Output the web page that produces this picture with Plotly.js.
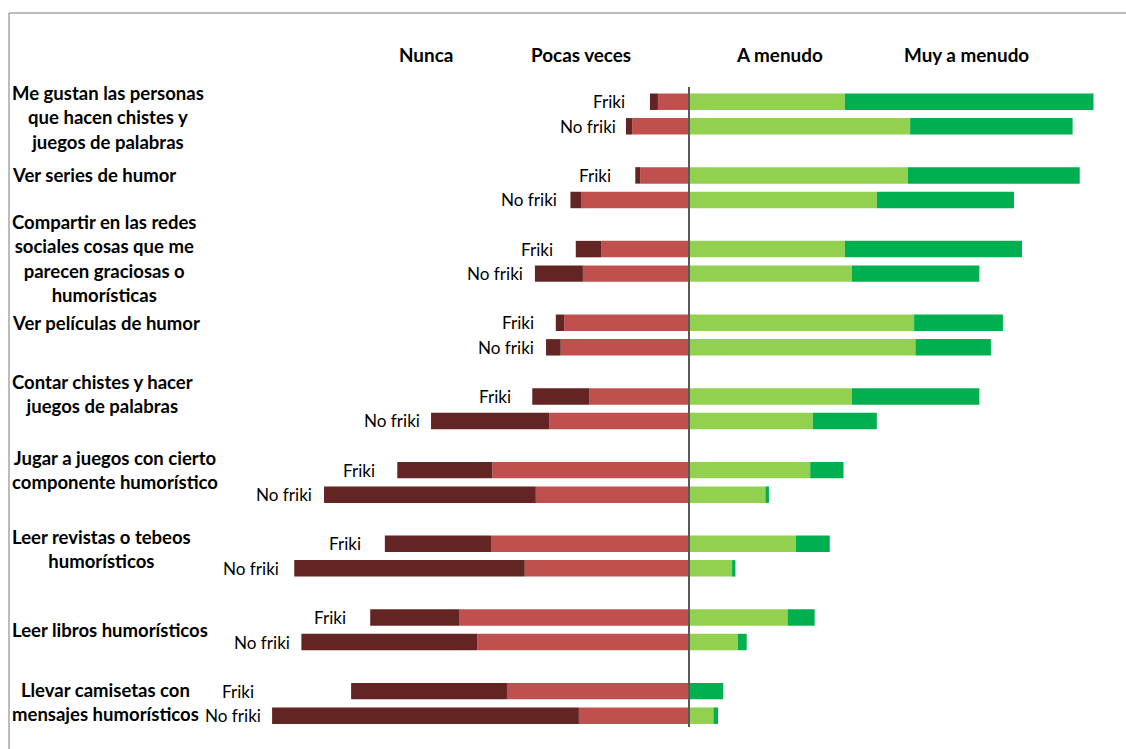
<!DOCTYPE html>
<html>
<head>
<meta charset="utf-8">
<script src="https://cdn.plot.ly/plotly-3.0.1.min.js"></script>
<style>
  html, body { margin: 0; padding: 0; background: #ffffff; }
  #chart { width: 1126px; height: 749px; }
</style>
</head>
<body>
<div id="chart"></div>
<script>
// ---------------- DATA (percentages) ----------------
const categories = [
  "Me gustan las personas<br>que hacen chistes y<br>juegos de palabras",
  "Ver series de humor",
  "Compartir en las redes<br>sociales cosas que me<br>parecen graciosas o<br>humorísticas",
  "Ver películas de humor",
  "Contar chistes y hacer<br>juegos de palabras",
  "Jugar a juegos con cierto<br>componente humorístico",
  "Leer revistas o tebeos<br>humorísticos",
  "Leer libros humorísticos",
  "Llevar camisetas con<br>mensajes humorísticos"
];
const groupLabels = ["Friki", "No friki"];
const seriesNames = ["Nunca", "Pocas veces", "A menudo", "Muy a menudo"];

const nuncaFriki     = [1.8, 1.1, 5.7, 1.9, 12.8, 21.4, 23.9, 20.0, 35.1];
const nuncaNoFriki   = [1.4, 2.5, 10.8, 3.3, 26.6, 47.7, 51.9, 39.6, 69.1];
const pocasFriki     = [7.0, 11.0, 19.8, 28.1, 22.5, 44.3, 44.6, 51.8, 41.0];
const pocasNoFriki   = [12.8, 24.2, 23.9, 28.9, 31.5, 34.5, 37.0, 47.7, 24.8];
const menudoFriki    = [35.1, 49.3, 35.1, 50.7, 36.7, 27.3, 24.1, 22.2, 0.0];
const menudoNoFriki  = [49.8, 42.3, 36.7, 51.0, 27.9, 17.2, 9.7, 11.0, 5.5];
const muyFriki       = [56.0, 38.7, 39.9, 20.0, 28.7, 7.5, 7.6, 6.1, 7.7];
const muyNoFriki     = [36.6, 30.9, 28.7, 17.0, 14.4, 0.8, 0.75, 2.0, 1.05];

// ---------------- LAYOUT CONSTANTS ----------------
const W = 1126, H = 749;
const M = { l: 245, r: 10, t: 87, b: 22 };
const PW = W - M.l - M.r, PH = H - M.t - M.b;
const XR = [-100, 96.17];
const YR = [25.46, -0.6]; // reversed
const FONT = "Lato, 'Open Sans', sans-serif";
// vertical placement of each category label, in row units below its "Friki" row
const catLabelShift = [0.66, 0, 0.37, 0.02, -0.1, 0, 0.21, 0.5, 0.43];

function fit(text, weight, target) {
  const c = document.createElement('canvas').getContext('2d');
  c.font = weight + " 100px Lato";
  return 100 * target / c.measureText(text).width;
}
const catSize = fit("Me gustan las personas", "bold", 192);
const lblSize = fit("No friki", "normal", 56);
const hdrSize = fit("Muy a menudo", "bold", 125.7);

const pxX = v => M.l + (v - XR[0]) / (XR[1] - XR[0]) * PW;
const paperFromPxX = px => (px - M.l) / PW;
const paperFromPxY = py => (H - M.b - py) / PH;
const pxY = u => M.t + (u - YR[1]) / (YR[0] - YR[1]) * PH;

// rows: Friki at 3i, No friki at 3i+1
const n = categories.length;
const yF = categories.map((_, i) => 3 * i);
const yN = categories.map((_, i) => 3 * i + 1);
const ys = yF.concat(yN);
const neg = a => a.map(v => -v);

const colors = ["#632523", "#C0504D", "#92D050", "#00B050"];
const barW = 0.67;
function bar(name, vals, color) {
  return {
    type: 'bar', orientation: 'h', name: name,
    y: ys, x: vals, width: barW,
    marker: { color: color, line: { width: 0 } },
    hoverinfo: 'skip', showlegend: false
  };
}
const traces = [
  bar(seriesNames[1], neg(pocasFriki.concat(pocasNoFriki)), colors[1]),
  bar(seriesNames[0], neg(nuncaFriki.concat(nuncaNoFriki)), colors[0]),
  bar(seriesNames[2], menudoFriki.concat(menudoNoFriki), colors[2]),
  bar(seriesNames[3], muyFriki.concat(muyNoFriki), colors[3])
];

// ---------------- ANNOTATIONS ----------------
const annotations = [];
// column headers
const headerX = [-59.2, -24.3, 20.4, 62.4];
seriesNames.forEach((s, k) => {
  annotations.push({
    xref: 'paper', yref: 'paper',
    x: paperFromPxX(pxX(headerX[k])), y: paperFromPxY(54),
    xanchor: 'center', yanchor: 'middle', showarrow: false,
    text: s, font: { family: FONT, size: hdrSize, color: '#000', weight: 'bold' },
    borderpad: 0, borderwidth: 0
  });
});
// group labels next to bars
function addGroupLabel(txt, u, aM, mM) {
  const v = -(100 - aM - mM) - 9.2;
  annotations.push({
    xref: 'paper', yref: 'paper',
    x: paperFromPxX(pxX(v)), y: paperFromPxY(pxY(u)),
    xanchor: 'center', yanchor: 'middle', showarrow: false,
    text: txt, font: { family: FONT, size: lblSize, color: '#000' },
    borderpad: 0, borderwidth: 0
  });
}
for (let i = 0; i < n; i++) {
  addGroupLabel(groupLabels[0], yF[i], menudoFriki[i], muyFriki[i]);
  addGroupLabel(groupLabels[1], yN[i], menudoNoFriki[i], muyNoFriki[i]);
}
// category labels
categories.forEach((c, i) => {
  const lines = c.split('<br>');
  const u = yF[i] + catLabelShift[i];
  const txt = lines.map(l => '<span style="font-size:' + catSize.toFixed(2) + 'px">' + l + '</span>').join('<br>');
  annotations.push({
    xref: 'paper', yref: 'paper',
    x: paperFromPxX(12), y: paperFromPxY(pxY(u)),
    xanchor: 'left', yanchor: 'middle', align: 'center', showarrow: false,
    text: txt, font: { family: FONT, size: 24.4 / 1.3, color: '#000', weight: 'bold' },
    borderpad: 0, borderwidth: 0
  });
});

// ---------------- SHAPES ----------------
const shapes = [
  { type: 'line', xref: 'paper', yref: 'paper',
    x0: paperFromPxX(9), x1: paperFromPxX(W + 2), y0: paperFromPxY(13), y1: paperFromPxY(13),
    line: { color: '#a6a6a6', width: 1.5 }, layer: 'below' },
  { type: 'line', xref: 'paper', yref: 'paper',
    x0: paperFromPxX(9), x1: paperFromPxX(9), y0: paperFromPxY(13), y1: paperFromPxY(H + 2),
    line: { color: '#a6a6a6', width: 1.5 }, layer: 'below' },
  { type: 'line', xref: 'x', yref: 'paper', x0: 0, x1: 0, y0: 0, y1: 1,
    line: { color: '#595959', width: 2 }, layer: 'above' }
];

const layout = {
  width: W, height: H,
  margin: M,
  paper_bgcolor: '#ffffff', plot_bgcolor: '#ffffff',
  barmode: 'relative',
  showlegend: false,
  xaxis: { range: XR, showgrid: false, zeroline: false, showticklabels: false, ticks: '', showline: false, fixedrange: true },
  yaxis: { range: YR, showgrid: false, zeroline: false, showticklabels: false, ticks: '', showline: false, fixedrange: true },
  annotations: annotations,
  shapes: shapes,
  font: { family: FONT }
};

Plotly.newPlot('chart', traces, layout, { displayModeBar: false, staticPlot: true });
</script>
</body>
</html>
